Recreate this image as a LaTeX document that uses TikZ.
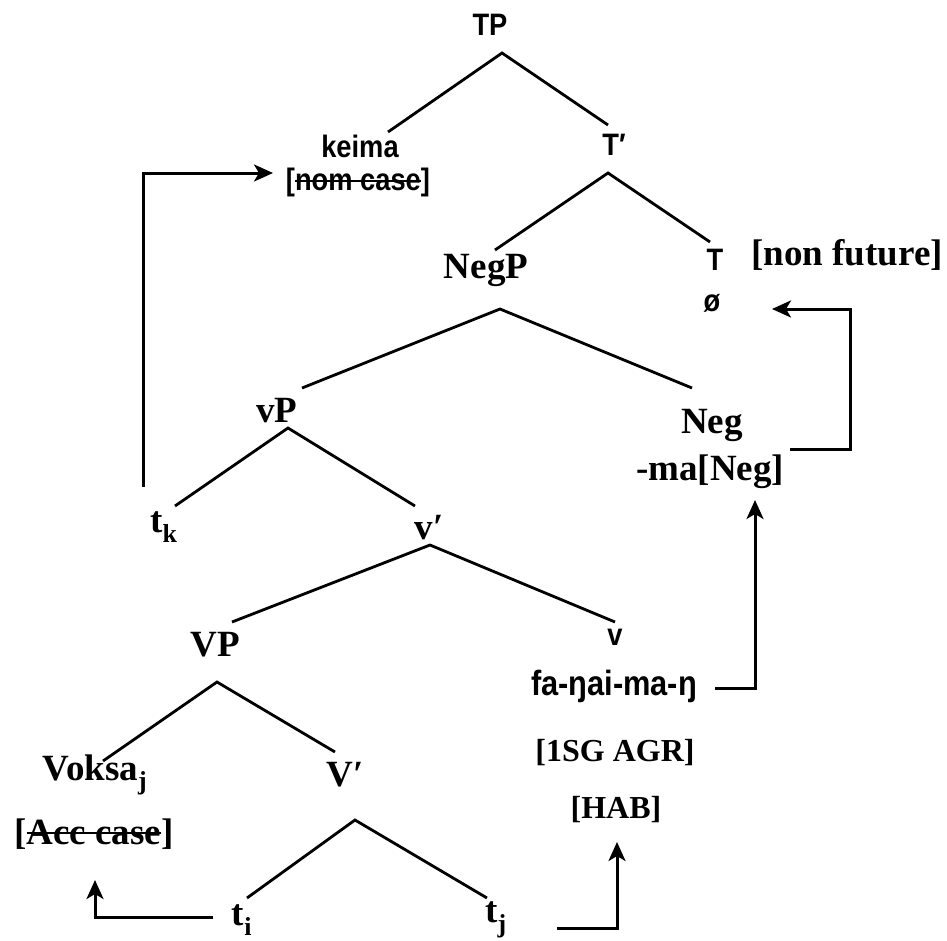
\documentclass[tikz,border=0pt]{standalone}
\usepackage{fontspec}
\setmainfont{Liberation Serif}
\setsansfont[FakeStretch=0.88]{Liberation Sans}
\newcommand{\mystrike}[1]{\setbox0\hbox{#1}\rlap{\rule[0.27em]{\wd0}{2pt}}\box0}
\usetikzlibrary{arrows.meta}
\tikzset{
  ser/.style={font=\fontsize{37}{39}\selectfont\bfseries, inner sep=0pt},
  sersmall/.style={font=\fontsize{32}{34}\selectfont\bfseries, inner sep=0pt},
  san/.style={font=\fontsize{31}{33}\selectfont\sffamily\bfseries, inner sep=0pt},
  sanbig/.style={font=\fontsize{35}{37}\selectfont\sffamily\bfseries, inner sep=0pt},
  branch/.style={line width=2.8pt},
  move/.style={line width=3pt, -{Stealth[length=19pt,width=17pt,inset=5pt]}}
}
\begin{document}
\begin{tikzpicture}[x=1pt,y=-1pt]
\useasboundingbox (0,0) rectangle (947,940);
% nodes
\node[san] (TP) at (490,25) {TP};
\node[san] (keima) at (360,146) {keima};
\node[san] (nom) at (358,182) {[\mystrike{nom case}]};
\node[san] (Tbar) at (614,145) {T′};
\node[ser] (NegP) at (486,270) {NegP};
\node[san] (T) at (715,260) {T};
\node[san] (null) at (712,303) {ø};
\node[ser] (nonfut) at (847,255) {[non future]};
\node[ser] (Neg) at (712,425) {Neg};
\node[ser] (ma) at (710,472) {-ma[Neg]};
\node[ser] (vP) at (277,411) {vP};
\node[ser] (tk) at (164,527) {t\textsubscript{k}};
\node[ser] (vbar) at (429,528) {v′};
\node[ser] (VP) at (215,645) {VP};
\node[san] (v) at (615,637) {v};
\node[sanbig] (fa) at (614,686) {fa-ŋai-ma-ŋ};
\node[sersmall] (agr) at (615,753) {[1SG AGR]};
\node[sersmall] (hab) at (616,810) {[HAB]};
\node[ser] (voksa) at (95,775) {Voksa\textsubscript{j}};
\node[ser] (acc) at (94,834) {[\mystrike{Acc case}]};
\node[ser] (Vbar) at (345,775) {V′};
\node[ser] (ti) at (242,920) {t\textsubscript{i}};
\node[ser] (tj) at (496,920) {t\textsubscript{j}};
% branch points
\coordinate (TPb) at (502,53);
\coordinate (keimat) at (388,132);
\coordinate (Tbart) at (608,125);
\coordinate (Tbarb) at (608,173);
\coordinate (NegPt) at (495,250);
\coordinate (Tt) at (710,242);
\coordinate (NegPb) at (500,309);
\coordinate (vPt) at (302,388);
\coordinate (Negt) at (692,388);
\coordinate (vPb) at (288,428);
\coordinate (tkt) at (175,506);
\coordinate (vbart) at (415,506);
\coordinate (vbarb) at (430,545);
\coordinate (VPt) at (232,622);
\coordinate (vt) at (615,622);
\coordinate (VPb) at (217,682);
\coordinate (voksat) at (103,761);
\coordinate (Vbart) at (335,752);
\coordinate (Vbarb) at (355,820);
\coordinate (tit) at (247,898);
\coordinate (tjt) at (487,898);
% tree branches
\draw[branch] (keimat) -- (TPb) -- (Tbart);
\draw[branch] (NegPt) -- (Tbarb) -- (Tt);
\draw[branch] (vPt) -- (NegPb) -- (Negt);
\draw[branch] (tkt) -- (vPb) -- (vbart);
\draw[branch] (VPt) -- (vbarb) -- (vt);
\draw[branch] (voksat) -- (VPb) -- (Vbart);
\draw[branch] (tit) -- (Vbarb) -- (tjt);
% movement arrows
\coordinate (a1s) at (143,487);
\coordinate (a1e) at (273,173);
\draw[move] (a1s) |- (a1e);
\coordinate (a2s) at (790,449);
\coordinate (a2c) at (850,449);
\coordinate (a2e) at (772,309);
\draw[move] (a2s) -- (a2c) |- (a2e);
\coordinate (a3s) at (715,688);
\coordinate (a3e) at (755,500);
\draw[move] (a3s) -| (a3e);
\coordinate (a4s) at (557,928);
\coordinate (a4e) at (617,842);
\draw[move] (a4s) -| (a4e);
\coordinate (a5s) at (213,917);
\coordinate (a5e) at (95,880);
\draw[move] (a5s) -| (a5e);
\end{tikzpicture}
\end{document}
